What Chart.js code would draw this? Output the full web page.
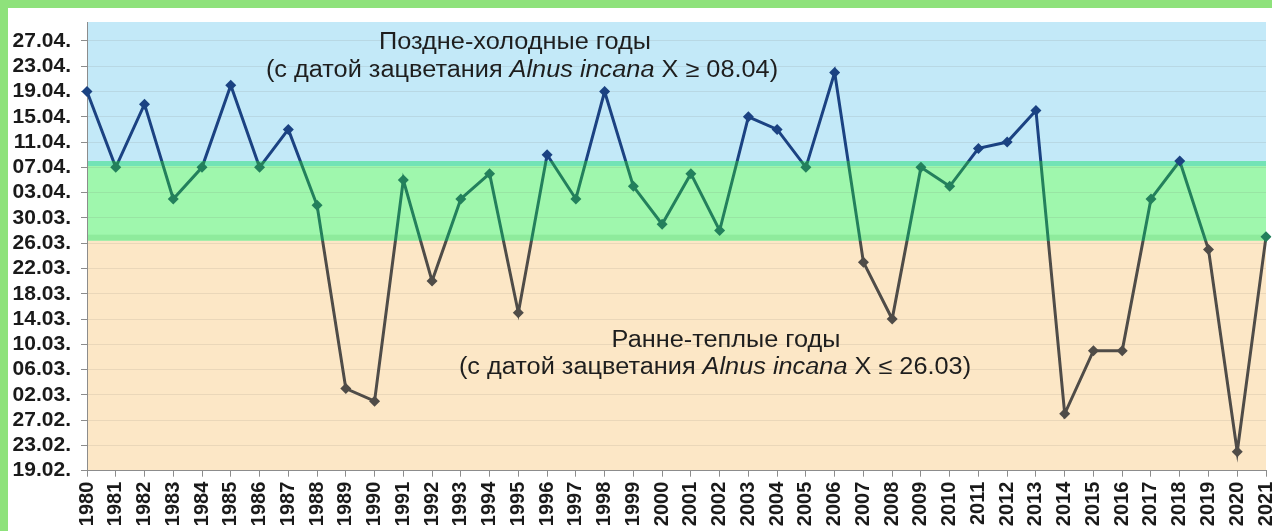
<!DOCTYPE html>
<html>
<head>
<meta charset="utf-8">
<script src="https://cdn.jsdelivr.net/npm/chart.js@4"></script>
<style>
  html, body { margin: 0; padding: 0; }
  body { background: #8ee27b; width: 1272px; height: 531px; overflow: hidden; position: relative; }
  #card { position: absolute; left: 8px; top: 8px; width: 1264px; height: 523px; background: #ffffff; }
  #chart { display: block; }
</style>
</head>
<body>
<div id="card"><canvas id="chart" width="1264" height="523"></canvas></div>
<script>
// ── Data ──
const years = [
  "1980","1981","1982","1983","1984","1985","1986","1987","1988","1989",
  "1990","1991","1992","1993","1994","1995","1996","1997","1998","1999",
  "2000","2001","2002","2003","2004","2005","2006","2007","2008","2009",
  "2010","2011","2012","2013","2014","2015","2016","2017","2018","2019",
  "2020","2021"
];

// date of Alnus incana flowering (dd.mm)
const bloomDates = [
  "19.04","07.04","17.04","02.04","07.04","20.04","07.04","13.04","01.04","03.03",
  "01.03","05.04","20.03","02.04","06.04","15.03","09.04","02.04","19.04","04.04",
  "29.03","06.04","28.03","15.04","13.04","07.04","22.04","23.03","14.03","07.04",
  "04.04","10.04","11.04","16.04","28.02","09.03","09.03","02.04","08.04","25.03",
  "22.02","27.03"
];

const yTickLabels = [
  "19.02.","23.02.","27.02.","02.03.","06.03.","10.03.","14.03.","18.03.","22.03.",
  "26.03.","30.03.","03.04.","07.04.","11.04.","15.04.","19.04.","23.04.","27.04."
];

const axisStart = "19.02";
const axisEnd = "30.04";
const warmLimit = "26.03";   // X <= 26.03
const coldLimit = "08.04";   // X >= 08.04

// days since 19.02 (leap-year calendar, as on the axis)
function toDay(s) {
  const [d, m] = s.split(".").map(Number);
  const base = Date.UTC(2020, 1, 19);
  return Math.round((Date.UTC(2020, m - 1, d) - base) / 86400000);
}

const values = bloomDates.map(toDay);
const coldDay = toDay(coldLimit);
const warmDay = toDay(warmLimit) + 0.4;

const COLD_LINE = "#1b4282";
const MID_LINE = "#23805c";
const WARM_LINE = "#4f4c48";

function lineGradient(chart) {
  const a = chart.chartArea;
  const y = chart.scales.y;
  if (!a || !y) return WARM_LINE;
  const g = chart.ctx.createLinearGradient(0, a.top, 0, a.bottom);
  const h = a.bottom - a.top;
  const f1 = Math.min(1, Math.max(0, (y.getPixelForValue(coldDay) - a.top) / h));
  const f2 = Math.min(1, Math.max(0, (y.getPixelForValue(warmDay) - a.top) / h));
  g.addColorStop(0, COLD_LINE);
  g.addColorStop(f1, COLD_LINE);
  g.addColorStop(f1, MID_LINE);
  g.addColorStop(f2, MID_LINE);
  g.addColorStop(f2, WARM_LINE);
  g.addColorStop(1, WARM_LINE);
  return g;
}

function pointColor(v) {
  if (v >= coldDay) return COLD_LINE;
  if (v >= warmDay) return MID_LINE;
  return WARM_LINE;
}

// ── Background zones ──
const bandsPlugin = {
  id: "bands",
  beforeDraw(chart) {
    const { ctx, chartArea: a, scales: { y } } = chart;
    const yHigh = y.getPixelForValue(coldDay);
    const yLow = y.getPixelForValue(warmDay);
    ctx.save();
    ctx.fillStyle = "#c3e9f8";
    ctx.fillRect(a.left, a.top, a.right - a.left, yHigh - a.top);
    ctx.fillStyle = "#9ff7ad";
    ctx.fillRect(a.left, yHigh, a.right - a.left, yLow - yHigh);
    ctx.fillStyle = "#fce7c6";
    ctx.fillRect(a.left, yLow, a.right - a.left, a.bottom - yLow);
    // darker edges of the green zone
    ctx.fillStyle = "#72e3b6";
    ctx.fillRect(a.left, yHigh, a.right - a.left, 5);
    ctx.fillStyle = "#8eeb9c";
    ctx.fillRect(a.left, yLow - 6, a.right - a.left, 6);
    ctx.restore();
  }
};

// ── Zone captions ──
function drawCaption(ctx, cx, y, parts, size) {
  const fam = "'Liberation Sans', Arial, sans-serif";
  let w = 0;
  parts.forEach(p => {
    ctx.font = (p.italic ? "italic " : "") + size + "px " + fam;
    p.w = ctx.measureText(p.text).width;
    w += p.w;
  });
  ctx.save();
  ctx.translate(cx, y);
  ctx.scale(1.1, 1);
  let x = -w / 2;
  ctx.fillStyle = "#1e1e1e";
  ctx.textBaseline = "alphabetic";
  ctx.textAlign = "left";
  parts.forEach(p => {
    ctx.font = (p.italic ? "italic " : "") + size + "px " + fam;
    ctx.fillText(p.text, x, 0);
    x += p.w;
  });
  ctx.restore();
}

const captionPlugin = {
  id: "captions",
  afterDraw(chart) {
    const { ctx, chartArea: a } = chart;
    drawCaption(ctx, a.left + 428, a.top + 27, [{ text: "Поздне-холодные годы" }], 23);
    drawCaption(ctx, a.left + 435, a.top + 55, [
      { text: "(с датой зацветания " },
      { text: "Alnus incana", italic: true },
      { text: " X ≥ 08.04)" }
    ], 23);
    drawCaption(ctx, a.left + 639, a.top + 325, [{ text: "Ранне-теплые годы" }], 23);
    drawCaption(ctx, a.left + 628, a.top + 352, [
      { text: "(с датой зацветания " },
      { text: "Alnus incana", italic: true },
      { text: " X ≤ 26.03)" }
    ], 23);
  }
};

const xTickFont = { family: "'Liberation Sans', Arial, sans-serif", size: 20, weight: "bold" };
const yTickFont = { family: "'Liberation Sans', Arial, sans-serif", size: 21, weight: "bold" };

new Chart(document.getElementById("chart"), {
  type: "line",
  data: {
    labels: years,
    datasets: [{
      data: values,
      borderColor: ctx => lineGradient(ctx.chart),
      borderWidth: 3,
      tension: 0,
      fill: false,
      pointStyle: "rectRot",
      pointRadius: 5.5,
      pointBorderWidth: 0,
      pointBackgroundColor: ctx => pointColor(ctx.raw),
      pointBorderColor: ctx => pointColor(ctx.raw)
    }]
  },
  options: {
    responsive: false,
    animation: false,
    devicePixelRatio: 1,
    layout: { padding: { top: 14, right: 6, left: 0, bottom: 0 } },
    plugins: { legend: { display: false }, tooltip: { enabled: false } },
    scales: {
      x: {
        type: "category",
        offset: false,
        afterFit: s => { s.height = 60.3; s.paddingLeft = 0; s.paddingRight = 0; },
        border: { color: "#8c8c8c", width: 1 },
        grid: { drawOnChartArea: false, drawTicks: true, tickLength: 6, color: "#8c8c8c" },
        ticks: {
          autoSkip: false, minRotation: 90, maxRotation: 90, padding: 5,
          color: "#1a1a1a", font: xTickFont
        }
      },
      y: {
        min: toDay(axisStart),
        max: toDay(axisEnd),
        afterFit: s => { s.width = 79; s.paddingTop = 0; s.paddingBottom = 0; },
        border: { color: "#8c8c8c", width: 1 },
        grid: { color: "rgba(110,100,90,0.12)", tickColor: "#8c8c8c", tickLength: 6, lineWidth: 1 },
        ticks: {
          autoSkip: false, stepSize: 4, includeBounds: false, padding: 10,
          color: "#1a1a1a", font: yTickFont,
          callback: v => yTickLabels[v / 4]
        }
      }
    }
  },
  plugins: [bandsPlugin, captionPlugin]
});
</script>
</body>
</html>
